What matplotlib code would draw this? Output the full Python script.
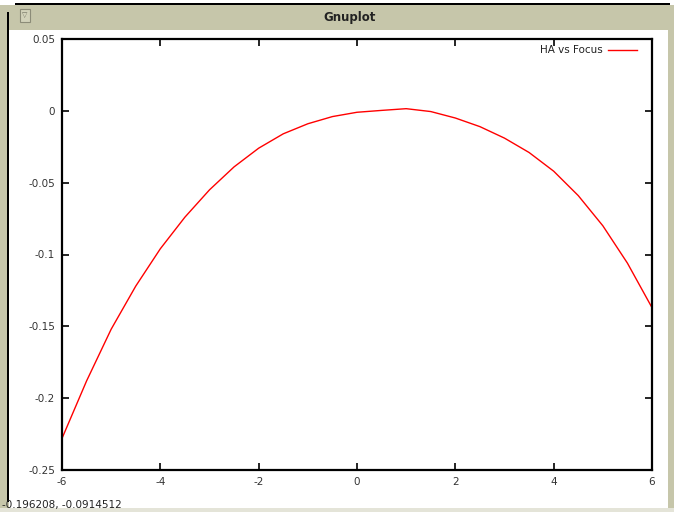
import matplotlib
matplotlib.use("Agg")
import matplotlib.pyplot as plt
from matplotlib.patches import Rectangle
from matplotlib.lines import Line2D

# HA vs Focus curve
focus = [-6, -5.5, -5, -4.5, -4, -3.5, -3, -2.5, -2, -1.5, -1, -0.5,
         0, 0.5, 1, 1.5, 2, 2.5, 3, 3.5, 4, 4.5, 5, 5.5, 6]
ha = [-0.228, -0.188, -0.152, -0.122, -0.096, -0.074, -0.055, -0.039,
      -0.026, -0.016, -0.009, -0.004, -0.001, 0.0003, 0.0015, -0.0005,
      -0.005, -0.011, -0.019, -0.029, -0.042, -0.059, -0.080, -0.106, -0.137]

xticks = [-6, -4, -2, 0, 2, 4, 6]
yticks = [-0.25, -0.2, -0.15, -0.1, -0.05, 0, 0.05]
ytick_labels = ["-0.25", "-0.2", "-0.15", "-0.1", "-0.05", "0", "0.05"]
series_label = "HA vs Focus"
window_title = "Gnuplot"
status_text = "-0.196208, -0.0914512"

W, H = 674, 512
fig = plt.figure(figsize=(W / 100, H / 100), dpi=100)
fig.patch.set_facecolor("white")


def px(x, y, w, h, **kw):
    # rectangle in pixel coords, y measured from top
    r = Rectangle((x / W, 1 - (y + h) / H), w / W, h / H,
                  transform=fig.transFigure, **kw)
    fig.add_artist(r)


beige = "#c6c6aa"
# window chrome
px(0, 5, 674, 25, facecolor=beige, edgecolor="none")
px(0, 5, 9, 507, facecolor=beige, edgecolor="none")
px(668, 5, 6, 507, facecolor=beige, edgecolor="none")
px(0, 508, 674, 4, facecolor="#e4e4d8", edgecolor="none")
px(15, 3, 655, 2, facecolor="black", edgecolor="none")
px(7, 12, 2, 490, facecolor="black", edgecolor="none")
px(20, 9, 10, 13, facecolor="#d2d2ba", edgecolor="#8c8c78", linewidth=0.8)
fig.text(25 / W, 1 - 15.5 / H, "\u25bd", fontsize=5, color="#707060",
         ha="center", va="center")
fig.text(350 / W, 1 - 17 / H, window_title, fontsize=8.5, fontweight="bold",
         family="DejaVu Sans Condensed", ha="center", va="center",
         color="#222222")

# plot area
ax = fig.add_axes([62 / W, 1 - 470 / H, 590 / W, 431 / H])
ax.plot(focus, ha, color="red", linewidth=1.0)
ax.set_xlim(-6, 6)
ax.set_ylim(-0.25, 0.05)
ax.set_xticks(xticks)
ax.set_xticklabels([str(t) for t in xticks])
ax.set_yticks(yticks)
ax.set_yticklabels(ytick_labels)
ax.tick_params(direction="in", length=5, width=1.2, top=True, right=True,
               labelsize=7.5, labelcolor="#333333", pad=5)
for s in ax.spines.values():
    s.set_linewidth(1.6)

# gnuplot-style key in the top right
fig.text(603 / W, 1 - 50 / H, series_label, fontsize=7.5, ha="right",
         va="center", color="#222222")
fig.add_artist(Line2D([608 / W, 637 / W], [1 - 50 / H, 1 - 50 / H],
                      transform=fig.transFigure, color="red", linewidth=1.0))

fig.text(2 / W, 1 - 505 / H, status_text, fontsize=7.5, ha="left",
         va="center", color="#222222")

fig.savefig("out.png", dpi=100, facecolor=fig.get_facecolor())
